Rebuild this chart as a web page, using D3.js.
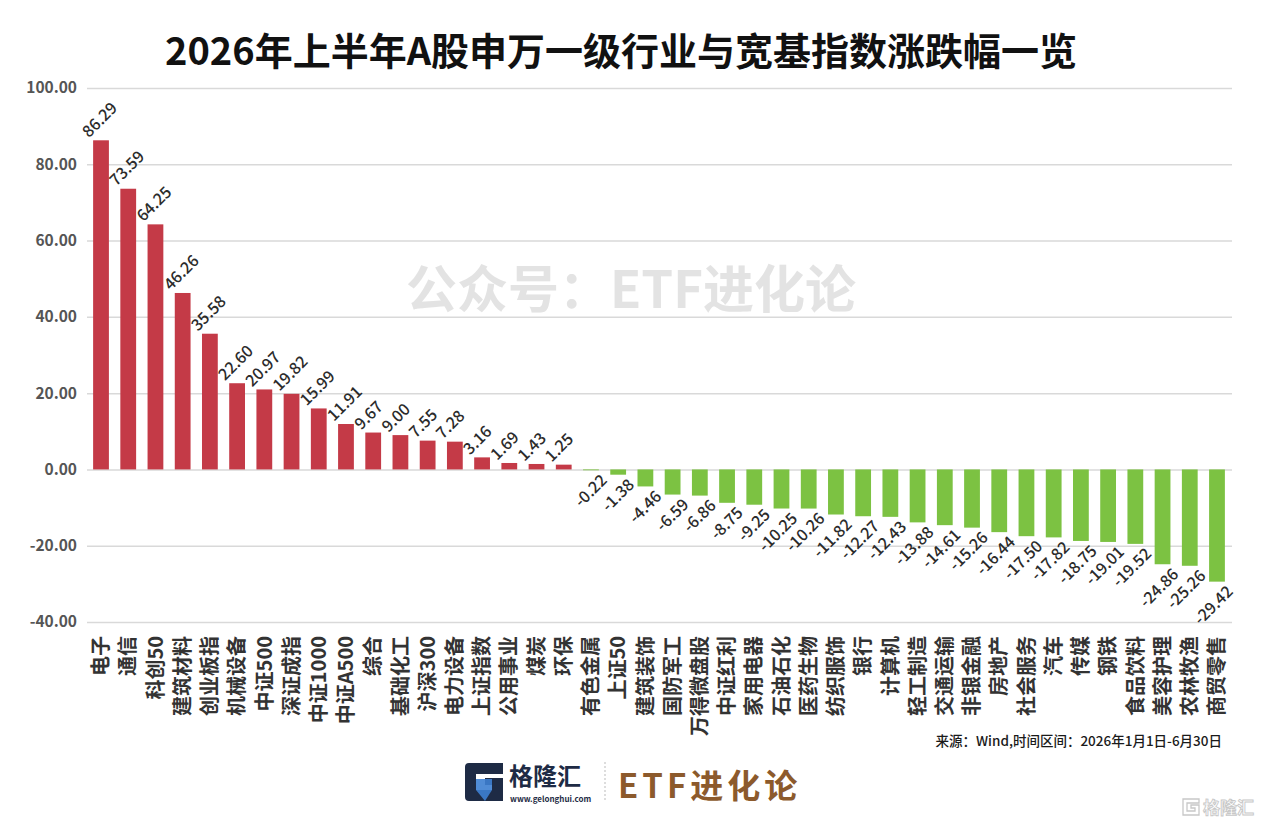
<!DOCTYPE html>
<html>
<head>
<meta charset="utf-8">
<script src="https://cdn.jsdelivr.net/npm/d3@7"></script>
<style>
  body { margin: 0; background: #fff; }
  svg { display: block; font-family: "Noto Sans CJK SC", "Noto Sans", sans-serif; }
</style>
</head>
<body>
<div class="box"></div>
<script>
// 数据
const categories = ['电子', '通信', '科创50', '建筑材料', '创业板指', '机械设备', '中证500', '深证成指', '中证1000', '中证A500',
  '综合', '基础化工', '沪深300', '电力设备', '上证指数', '公用事业', '煤炭', '环保', '有色金属', '上证50',
  '建筑装饰', '国防军工', '万得微盘股', '中证红利', '家用电器', '石油石化', '医药生物', '纺织服饰', '银行', '计算机',
  '轻工制造', '交通运输', '非银金融', '房地产', '社会服务', '汽车', '传媒', '钢铁', '食品饮料', '美容护理',
  '农林牧渔', '商贸零售'];
const changes = [86.29, 73.59, 64.25, 46.26, 35.58, 22.60, 20.97, 19.82, 15.99, 11.91,
  9.67, 9.00, 7.55, 7.28, 3.16, 1.69, 1.43, 1.25, -0.22, -1.38,
  -4.46, -6.59, -6.86, -8.75, -9.25, -10.25, -10.26, -11.82, -12.27, -12.43,
  -13.88, -14.61, -15.26, -16.44, -17.50, -17.82, -18.75, -19.01, -19.52, -24.86,
  -25.26, -29.42];
const yTicks = [-40, -20, 0, 20, 40, 60, 80, 100];

const title = '2026年上半年A股申万一级行业与宽基指数涨跌幅一览';
const source = '来源：Wind,时间区间：2026年1月1日-6月30日';
const watermark = '公众号：ETF进化论';

const data = categories.map((c, i) => ({nom: c, val: changes[i]}));
const fmt = v => v.toFixed(2);

const svg = d3.select('.box')
              .append('svg')
              .attr('width', 1266)
              .attr('height', 825);

// Echelles
const y = d3.scaleLinear()
            .domain([-40, 100])
            .range([622, 88]);

const x = d3.scaleBand()
            .domain(categories)
            .range([87.4, 1230.6])
            .paddingInner(0.42)
            .paddingOuter(0.21);

// titre
svg.append('text')
   .attr('x', 621)
   .attr('y', 65)
   .attr('text-anchor', 'middle')
   .attr('font-size', 38)
   .attr('font-weight', 700)
   .attr('fill', '#111')
   .text(title);

// filigrane
svg.append('text')
   .attr('x', 631)
   .attr('y', 308)
   .attr('text-anchor', 'middle')
   .attr('font-size', 51)
   .attr('font-weight', 700)
   .attr('fill', '#e3e3e3')
   .text(watermark);

// grille + axe Y
const axeY = d3.axisLeft(y)
               .tickValues(yTicks)
               .tickSize(-(1232 - 87))
               .tickFormat(fmt);

const groupeY = svg.append('g')
                   .attr('transform', 'translate(87,0)')
                   .call(axeY);
groupeY.select('.domain').remove();
groupeY.selectAll('.tick line')
       .attr('stroke', '#d9d9d9')
       .attr('stroke-width', 1.5);
groupeY.selectAll('.tick text')
       .attr('x', -10)
       .attr('font-size', 15.5)
       .attr('font-weight', 700)
       .attr('fill', '#555')
       .attr('font-family', '"Noto Sans CJK SC", sans-serif');

// barres
svg.append('g')
   .selectAll('rect')
   .data(data)
   .enter()
   .append('rect')
   .attr('x', d => x(d.nom))
   .attr('width', x.bandwidth())
   .attr('y', d => y(Math.max(0, d.val)))
   .attr('height', d => Math.abs(y(d.val) - y(0)))
   .attr('fill', d => d.val >= 0 ? '#c43a47' : '#7cc242');

// étiquettes de valeurs
svg.append('g')
   .selectAll('text')
   .data(data)
   .enter()
   .append('text')
   .attr('transform', d => {
       const cx = x(d.nom) + x.bandwidth() / 2;
       if (d.val >= 0) return `translate(${cx - 12},${y(d.val) - 2}) rotate(-45)`;
       return `translate(${cx + 17},${y(d.val) + 11}) rotate(-45)`;
   })
   .attr('text-anchor', d => d.val >= 0 ? 'start' : 'end')
   .attr('font-size', 16)
   .attr('font-weight', 500)
   .attr('fill', '#2b2b2b')
   .text(d => fmt(d.val));

// catégories
svg.append('g')
   .selectAll('text')
   .data(data)
   .enter()
   .append('text')
   .attr('transform', d => `translate(${x(d.nom) + x.bandwidth() / 2},636) rotate(-90)`)
   .attr('text-anchor', 'end')
   .attr('dy', '0.36em')
   .attr('font-size', 20)
   .attr('font-weight', 700)
   .attr('fill', '#333')
   .text(d => d.nom);

// source
svg.append('text')
   .attr('x', 1222)
   .attr('y', 746)
   .attr('text-anchor', 'end')
   .attr('font-size', 13.5)
   .attr('font-weight', 500)
   .attr('fill', '#1a1a1a')
   .text(source);

// logo bas
const logo = svg.append('g').attr('transform', 'translate(465,763)');
logo.append('path')
    .attr('d', 'M0,4 Q0,0 4,0 L38,0 L38,11 L11,11 L11,27 L27,27 L27,22 L20,22 L20,15 L38,15 L38,38 L4,38 Q0,38 0,34 Z')
    .attr('fill', '#1e2b45');
logo.append('path')
    .attr('d', 'M11,16 L27,16 L27,27 L20,38 L11,38 Z')
    .attr('fill', '#3d7fd1')
    .attr('opacity', 0.9);
logo.append('path')
    .attr('d', 'M11,11 L11,38 L20,38 L11,27 Z')
    .attr('fill', '#1e2b45');
logo.append('text')
    .attr('x', 44)
    .attr('y', 22)
    .attr('font-size', 24)
    .attr('font-weight', 700)
    .attr('fill', '#1e2b45')
    .text('格隆汇');
logo.append('text')
    .attr('x', 45)
    .attr('y', 39)
    .attr('font-size', 8)
    .attr('font-weight', 700)
    .attr('fill', '#1e2b45')
    .text('www.gelonghui.com');
svg.append('line')
   .attr('x1', 605).attr('x2', 605)
   .attr('y1', 762).attr('y2', 802)
   .attr('stroke', '#bbb')
   .attr('stroke-dasharray', '2,2');
svg.append('text')
   .attr('x', 618)
   .attr('y', 798)
   .attr('font-size', 33)
   .attr('font-weight', 700)
   .attr('letter-spacing', 4)
   .attr('fill', '#8c5a2c')
   .text('ETF进化论');

// marque en bas à droite
const wm = svg.append('g').attr('transform', 'translate(1183,797)');
wm.append('path')
  .attr('d', 'M0,2 L16,2 L16,6 L4,6 L4,14 L12,14 L12,11 L8,11 L8,8 L16,8 L16,18 L0,18 Z')
  .attr('fill', 'none')
  .attr('stroke', '#c8c8c8')
  .attr('stroke-width', 1.3);
wm.append('text')
  .attr('x', 20)
  .attr('y', 17)
  .attr('font-size', 17)
  .attr('font-weight', 700)
  .attr('fill', 'none')
  .attr('stroke', '#c8c8c8')
  .attr('stroke-width', 0.9)
  .text('格隆汇');
</script>
</body>
</html>
